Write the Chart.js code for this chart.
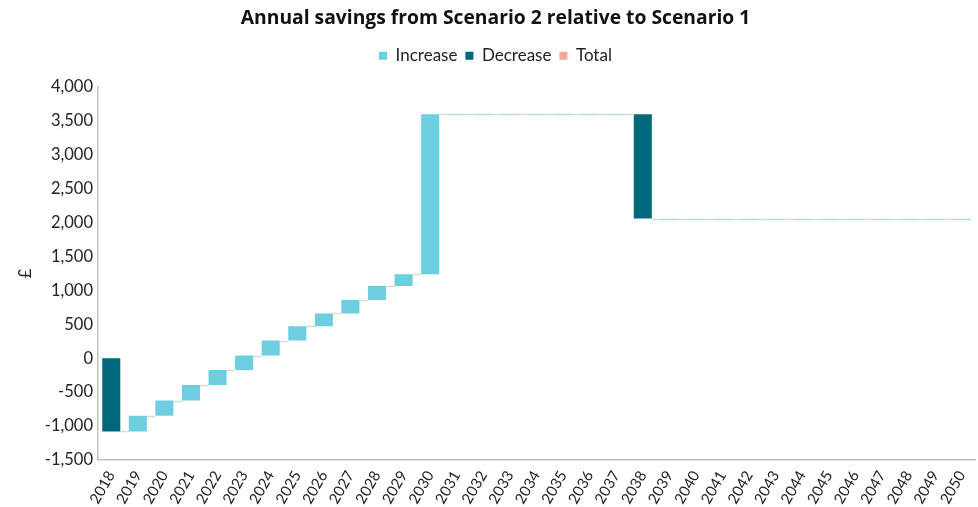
<!DOCTYPE html>
<html>
<head>
<meta charset="utf-8">
<script src="https://cdn.jsdelivr.net/npm/chart.js@4/dist/chart.umd.min.js"></script>
<style>
  html, body { margin: 0; padding: 0; background: #fff; }
  #wrap { width: 978px; height: 507px; position: relative; }
</style>
</head>
<body>
<div id="wrap"><canvas id="savingsChart"></canvas></div>
<script>
// years on the x axis
const YEARS = ["2018","2019","2020","2021","2022","2023","2024","2025","2026","2027","2028",
  "2029","2030","2031","2032","2033","2034","2035","2036","2037","2038","2039","2040",
  "2041","2042","2043","2044","2045","2046","2047","2048","2049","2050"];

// change in savings each year (£)
const CHANGES = [-1080, 230, 225, 230, 220, 215, 220, 210, 190, 200, 205, 175, 2360,
  0, 0, 0, 0, 0, 0, 0, -1540, 0, 0, 0, 0, 0, 0, 0, 0, 0, 0, 0, 0];

const Y_MIN = -1500, Y_MAX = 4000, Y_STEP = 500;

const COL_UP = "#6dcee0";
const COL_DOWN = "#00687b";
const COL_TOTAL = "#f4a792";

(function () {
  // running totals -> floating bar ranges
  const starts = [], ends = [];
  let run = 0;
  CHANGES.forEach(c => { starts.push(run); run += c; ends.push(run); });

  const upData = CHANGES.map((c, i) => c > 0 ? [starts[i], ends[i]] : null);
  const downData = CHANGES.map((c, i) => c < 0 ? [ends[i], starts[i]] : null);

  // connector lines between bars, flat lines for zero-change years
  const connectors = {
    id: "connectors",
    beforeDatasetsDraw(chart) {
      const { ctx, scales: { x, y } } = chart;
      const half = chart.getDatasetMeta(0).data.find(Boolean)?.width / 2 || 9;
      ctx.save();
      ctx.lineWidth = 1.5;
      for (let i = 0; i < ends.length; i++) {
        const cx = x.getPixelForValue(i);
        const py = Math.round(y.getPixelForValue(ends[i])) + 0.5;
        if (CHANGES[i] === 0) {
          ctx.strokeStyle = "#a9dce7";
          ctx.beginPath(); ctx.moveTo(cx - half, py); ctx.lineTo(cx + half, py); ctx.stroke();
        }
        if (i < ends.length - 1) {
          const nx = x.getPixelForValue(i + 1);
          ctx.strokeStyle = "#d9d9d9";
          ctx.beginPath(); ctx.moveTo(cx + half, py); ctx.lineTo(nx - half, py); ctx.stroke();
        }
      }
      ctx.restore();
    }
  };

  // extra room under the legend
  const legendGap = {
    id: "legendGap",
    beforeInit(chart) {
      const fit = chart.legend.fit;
      chart.legend.fit = function () { fit.call(this); this.height += 13; };
    }
  };

  const font = { family: "Lato, 'Open Sans', sans-serif", size: 16.5 };

  new Chart(document.getElementById("savingsChart"), {
    type: "bar",
    data: {
      labels: YEARS,
      datasets: [
        { label: "Increase", data: upData, backgroundColor: COL_UP },
        { label: "Decrease", data: downData, backgroundColor: COL_DOWN },
        { label: "Total", data: YEARS.map(() => null), backgroundColor: COL_TOTAL }
      ]
    },
    options: {
      responsive: true,
      maintainAspectRatio: false,
      animation: false,
      layout: { padding: { left: 16, right: 3, top: 0, bottom: 0 } },
      datasets: { bar: { grouped: false, categoryPercentage: 1, barPercentage: 0.68 } },
      plugins: {
        title: {
          display: true,
          text: "Annual savings from Scenario 2 relative to Scenario 1",
          color: "#111",
          font: { family: "'Open Sans', sans-serif", size: 19.3, weight: "bold" },
          padding: { top: 7, bottom: 9 }
        },
        legend: {
          position: "top",
          labels: { color: "#222", font: { ...font, size: 17 }, boxWidth: 8, boxHeight: 8, padding: 8 }
        },
        tooltip: { enabled: false }
      },
      scales: {
        x: {
          grid: { display: false },
          border: { display: true, color: "#bfbfbf", width: 1.5 },
          ticks: { color: "#222", font: { ...font, size: 15 }, maxRotation: 60, minRotation: 60, autoSkip: false, padding: 0 }
        },
        y: {
          min: Y_MIN, max: Y_MAX,
          grid: { display: false, drawTicks: false },
          border: { display: true, color: "#bfbfbf", width: 1.5 },
          ticks: {
            stepSize: Y_STEP, color: "#222", font, padding: 5,
            callback: v => v.toLocaleString("en-GB")
          },
          title: { display: true, text: "£", color: "#222", font, padding: { top: 0, bottom: 4 } }
        }
      }
    },
    plugins: [connectors, legendGap]
  });
})();
</script>
</body>
</html>
